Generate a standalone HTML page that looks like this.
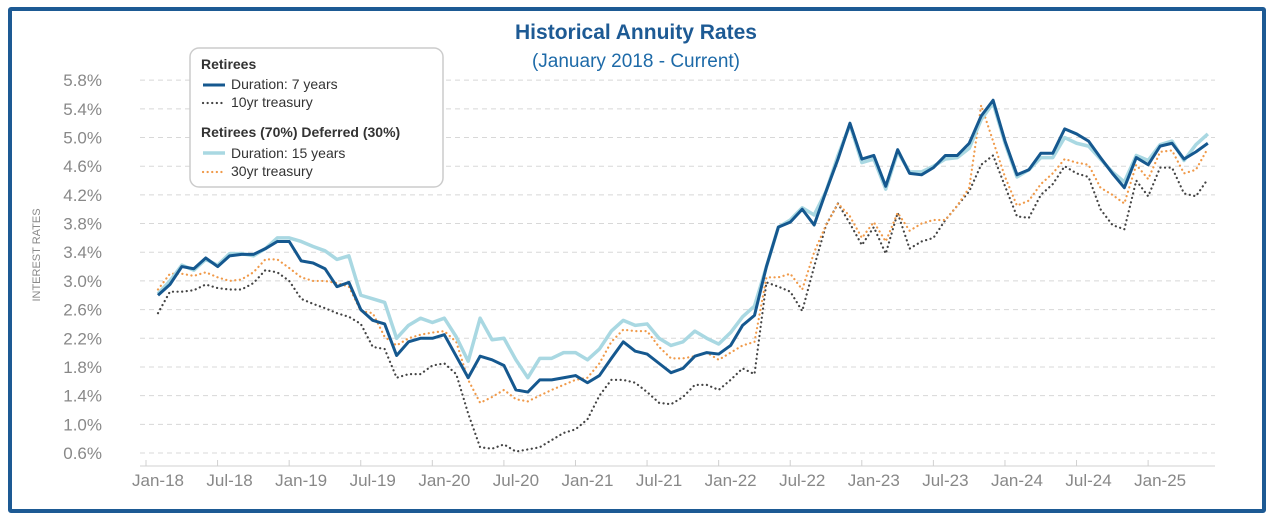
<!DOCTYPE html>
<html><head><meta charset="utf-8"><style>
body{margin:0;background:#fff;font-family:"Liberation Sans",sans-serif;}
#frame{position:absolute;left:8px;top:7px;width:1250px;height:498px;border:4px solid #1d5a94;border-radius:3px;}
</style></head><body>
<div id="frame"></div>
<svg id="chart" width="1272" height="517" style="position:absolute;left:0;top:0"></svg>
<script>
const months=["Jan-18","Jul-18","Jan-19","Jul-19","Jan-20","Jul-20","Jan-21","Jul-21","Jan-22","Jul-22","Jan-23","Jul-23","Jan-24","Jul-24","Jan-25"];
const yTicks=[0.6,1.0,1.4,1.8,2.2,2.6,3.0,3.4,3.8,4.2,4.6,5.0,5.4,5.8];
const dur7=[2.80,2.95,3.20,3.17,3.32,3.20,3.35,3.37,3.37,3.45,3.55,3.55,3.28,3.25,3.17,2.92,2.98,2.60,2.45,2.40,1.96,2.15,2.20,2.20,2.25,1.95,1.65,1.95,1.90,1.82,1.48,1.45,1.62,1.62,1.65,1.68,1.58,1.68,1.92,2.15,2.02,1.98,1.85,1.72,1.78,1.95,2.00,1.98,2.10,2.38,2.52,3.20,3.75,3.82,4.00,3.78,4.25,4.70,5.20,4.70,4.75,4.32,4.83,4.50,4.48,4.58,4.75,4.75,4.92,5.30,5.52,4.95,4.48,4.55,4.78,4.78,5.12,5.05,4.95,4.72,4.50,4.30,4.72,4.62,4.88,4.92,4.70,4.80,4.92];
const dur15=[2.82,3.00,3.22,3.15,3.30,3.22,3.38,3.38,3.35,3.45,3.60,3.60,3.55,3.48,3.42,3.30,3.35,2.80,2.75,2.70,2.20,2.38,2.48,2.42,2.48,2.22,1.88,2.48,2.18,2.20,1.90,1.65,1.92,1.92,2.00,2.00,1.90,2.05,2.30,2.45,2.38,2.40,2.20,2.10,2.15,2.30,2.20,2.12,2.28,2.50,2.65,3.20,3.75,3.85,4.02,3.92,4.25,4.75,5.18,4.65,4.70,4.28,4.80,4.52,4.52,4.60,4.70,4.72,4.85,5.25,5.48,4.92,4.45,4.55,4.72,4.72,5.00,4.92,4.88,4.70,4.52,4.38,4.75,4.68,4.90,4.95,4.68,4.90,5.05];
const t10=[2.55,2.85,2.85,2.87,2.95,2.90,2.88,2.88,2.97,3.15,3.12,3.00,2.75,2.68,2.62,2.55,2.50,2.40,2.08,2.05,1.65,1.70,1.70,1.82,1.85,1.70,1.15,0.68,0.66,0.72,0.62,0.65,0.68,0.78,0.88,0.93,1.07,1.40,1.62,1.62,1.58,1.45,1.30,1.28,1.38,1.55,1.55,1.48,1.62,1.78,1.70,2.98,2.92,2.85,2.58,3.20,3.78,4.08,3.80,3.50,3.75,3.38,3.95,3.45,3.55,3.60,3.85,4.05,4.25,4.62,4.75,4.32,3.90,3.88,4.20,4.35,4.60,4.50,4.45,4.00,3.78,3.72,4.40,4.18,4.58,4.58,4.22,4.18,4.42];
const t30=[2.88,3.10,3.10,3.07,3.12,3.05,3.00,3.02,3.12,3.30,3.30,3.18,3.05,3.00,3.00,2.97,2.92,2.58,2.55,2.22,2.10,2.20,2.25,2.28,2.30,2.15,1.62,1.30,1.38,1.48,1.35,1.32,1.40,1.48,1.55,1.62,1.65,1.85,2.15,2.32,2.30,2.30,2.08,1.92,1.92,1.95,2.00,1.90,2.00,2.10,2.15,3.05,3.05,3.10,2.88,3.40,3.78,4.08,3.90,3.60,3.82,3.55,3.95,3.70,3.80,3.85,3.85,4.05,4.30,5.45,4.95,4.45,4.05,4.12,4.35,4.50,4.70,4.65,4.62,4.30,4.20,4.08,4.62,4.42,4.80,4.82,4.50,4.55,4.85];

const svg=document.getElementById('chart');
const NS='http://www.w3.org/2000/svg';
const x=i=>158+i*11.93;
const y=v=>453-(v-0.6)*71.7;
function mk(tag,attrs,parent){const e=document.createElementNS(NS,tag);for(const k in attrs)e.setAttribute(k,attrs[k]);(parent||svg).appendChild(e);return e;}

// title
let t=mk('text',{x:636,y:39,'text-anchor':'middle','font-size':21,'font-weight':'bold',fill:'#1d5a94'});t.textContent='Historical Annuity Rates';


t=mk('text',{x:636,y:67,'text-anchor':'middle','font-size':19,fill:'#1d6aa8'});t.textContent='(January 2018 - Current)';



// y axis
yTicks.forEach(v=>{
  const g=mk('line',{x1:140,x2:1215,y1:y(v),y2:y(v),stroke:'#d8d8d8','stroke-width':1,'stroke-dasharray':'5,4'});
  
  
  const l=mk('text',{x:102,y:y(v)+6,'text-anchor':'end','font-size':17,fill:'#888'});
  l.textContent=v.toFixed(1)+'%';
  
  
});
t=mk('text',{x:40,y:255,'text-anchor':'middle','font-size':11,fill:'#888',transform:'rotate(-90 40 255)'});t.textContent='INTEREST RATES';



// x axis
let ax=mk('line',{x1:140,x2:1215,y1:466,y2:466,stroke:'#d0d0d0','stroke-width':1});


months.forEach((m,k)=>{
  const xx=x(k*6);
  const tk=mk('line',{x1:xx-12,x2:xx-12,y1:460,y2:466,stroke:'#d0d0d0'});
  
  
  const l=mk('text',{x:xx,y:486,'text-anchor':'middle','font-size':17,fill:'#888'});
  l.textContent=m;
  
  
});

function line(data,stroke,w,dash,name){
  const p=mk('polyline',{points:data.map((v,i)=>x(i)+','+y(v)).join(' '),fill:'none',stroke:stroke,'stroke-width':w,'stroke-linejoin':'round','stroke-linecap':dash?'round':'butt'});
  if(dash)p.setAttribute('stroke-dasharray',dash);
  
  
}
line(t10,'#444',2.2,'0.1,4.5','series-10yr-treasury');
line(t30,'#f09a4a',2.2,'0.1,4.5','series-30yr-treasury');
line(dur15,'#a9d8e2',3.5,null,'series-duration-15');
line(dur7,'#15588f',3,null,'series-duration-7');

// legend
const lg=mk('g',{});


mk('rect',{x:190,y:48,width:253,height:139,rx:9,fill:'#fff',stroke:'#ccc','stroke-width':1.5},lg);
function txt(s,xx,yy,b){const e=mk('text',{x:xx,y:yy,'font-size':14,fill:'#333','font-weight':b?'bold':'normal'},lg);e.textContent=s;return e;}
t=txt('Retirees',201,69,true);
mk('line',{x1:203,x2:225,y1:85,y2:85,stroke:'#15588f','stroke-width':3},lg);
t=txt('Duration: 7 years',231,89);
mk('line',{x1:203,x2:225,y1:103,y2:103,stroke:'#444','stroke-width':2.2,'stroke-dasharray':'0.1,4.5','stroke-linecap':'round'},lg);
t=txt('10yr treasury',231,107);
t=txt('Retirees (70%) Deferred (30%)',201,137,true);
mk('line',{x1:203,x2:225,y1:153,y2:153,stroke:'#a9d8e2','stroke-width':3.5},lg);
t=txt('Duration: 15 years',231,158);
mk('line',{x1:203,x2:225,y1:172,y2:172,stroke:'#f09a4a','stroke-width':2.2,'stroke-dasharray':'0.1,4.5','stroke-linecap':'round'},lg);
t=txt('30yr treasury',231,176);
</script>
</body></html>
